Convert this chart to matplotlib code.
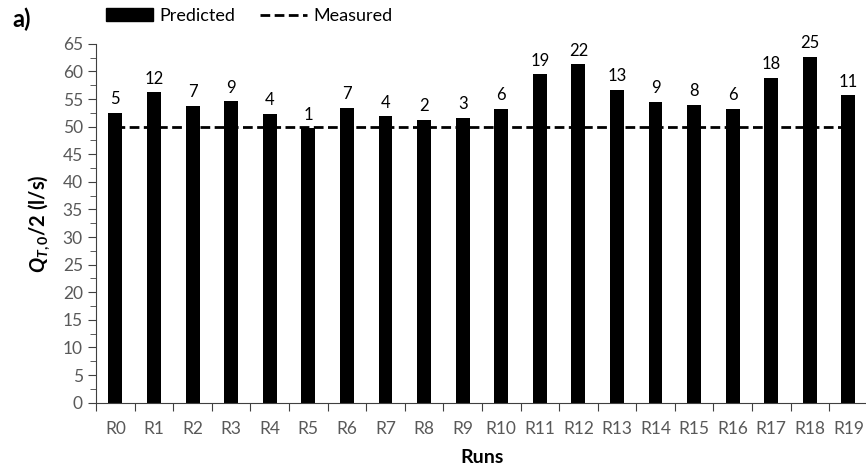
import matplotlib.pyplot as plt
from matplotlib.patches import Patch
from matplotlib.lines import Line2D
from matplotlib.ticker import MultipleLocator

# Data
runs = ["R" + str(i) for i in range(20)]
predicted = [52.5, 56.2, 53.8, 54.6, 52.3, 49.7, 53.4, 51.9, 51.2, 51.6,
             53.2, 59.5, 61.3, 56.7, 54.5, 54.0, 53.2, 58.9, 62.7, 55.7]
measured = [50] * 20
labels = [5, 12, 7, 9, 4, 1, 7, 4, 2, 3, 6, 19, 22, 13, 9, 8, 6, 18, 25, 11]

plt.rcParams['font.family'] = ['Lato', 'DejaVu Sans']
plt.rcParams['mathtext.fontset'] = 'custom'
plt.rcParams['mathtext.it'] = 'Lato:italic:bold'
plt.rcParams['mathtext.rm'] = 'Lato:bold'

fig = plt.figure(figsize=(8.66, 4.72), dpi=100)
ax = fig.add_axes([0.111, 0.147, 0.891, 0.76])

x = range(len(runs))
# measured line behind the bars
ax.plot(x, measured, color='black', lw=2, ls=(0, (3.5, 1.6)), zorder=1)
bars = ax.bar(x, predicted, width=0.36, color='black', zorder=2)
ax.bar_label(bars, labels=[str(v) for v in labels], padding=4, fontsize=12)

ax.set_xlim(-0.5, 19.5)
ax.set_ylim(0, 65)
ax.yaxis.set_major_locator(MultipleLocator(5))
ax.yaxis.set_minor_locator(MultipleLocator(2.5))
ax.set_xticks([i - 0.5 for i in range(20)], minor=False)
ax.set_xticklabels([])
ax.set_xticks(list(x), minor=True)
ax.set_xticklabels(runs, minor=True)
ax.tick_params(axis='x', which='major', length=6, direction='out', color='#404040')
ax.tick_params(axis='x', which='minor', length=0, pad=13, labelsize=12.5, labelcolor='#595959')
ax.tick_params(axis='y', which='major', length=6, labelsize=12.5, labelcolor='#595959', color='#404040')
ax.tick_params(axis='y', which='minor', length=4, color='#404040')

for s in ['top', 'right']:
    ax.spines[s].set_visible(False)
for s in ['left', 'bottom']:
    ax.spines[s].set_color('#404040')

ax.set_xlabel('Runs', fontsize=14, fontweight='bold', labelpad=9)
ax.set_ylabel(r'$\mathit{Q}_{\mathit{T,0}}$/2 (l/s)', fontsize=14.5, fontweight='bold', labelpad=8)

fig.text(12 / 866, 1 - 19 / 472, 'a)', fontsize=17, fontweight='bold', va='center')

handles = [Patch(color='black'), Line2D([], [], color='black', lw=2, ls=(0, (3.5, 1.6)))]
fig.legend(handles, ['Predicted', 'Measured'], loc='center left',
           bbox_to_anchor=(106 / 866, 1 - 16 / 472), ncol=2, frameon=False,
           fontsize=13, handlelength=2.6, handleheight=0.75,
           handletextpad=0.35, columnspacing=1.4, borderpad=0, borderaxespad=0)

plt.savefig('out.png', dpi=100)
